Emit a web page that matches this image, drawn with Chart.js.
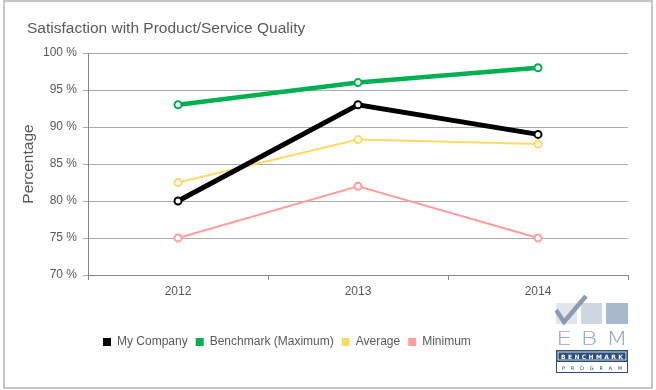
<!DOCTYPE html>
<html>
<head>
<meta charset="utf-8">
<script src="https://cdn.jsdelivr.net/npm/chart.js@4/dist/chart.umd.min.js"></script>
<style>
  body { margin: 0; background: #fff; }
  #wrap { position: relative; width: 656px; height: 390px; }
  #frame { position: absolute; left: 3px; top: 0; width: 646px; height: 385px; border: 2px solid #c6c6c6; }
  #myChart { position: absolute; left: 0; top: 0; }
  #logo { position: absolute; left: 555px; top: 295px; }
</style>
</head>
<body>
<div id="wrap">
  <div id="frame"></div>
  <canvas id="myChart" width="656" height="390"></canvas>
  <svg id="logo" width="75" height="79" viewBox="0 0 75 79">
    <rect x="1" y="8" width="21" height="21" fill="#e2e6ec"/>
    <rect x="26" y="8" width="21" height="21" fill="#cdd6e1"/>
    <rect x="51" y="8" width="22" height="21" fill="#a9b9cd"/>
    <polyline points="1,15 9,27 31,1" fill="none" stroke="#8b9cb2" stroke-width="4.5"/>
    <text x="1" y="50" font-family="DejaVu Sans, Arial" font-size="20" font-weight="200" fill="#9aa8ba" textLength="72" lengthAdjust="spacingAndGlyphs">E B M</text>
    <rect x="1.5" y="55.5" width="71" height="11" fill="#2d4f7d" stroke="#2d4f7d"/>
    <rect x="3" y="57" width="68" height="8" fill="none" stroke="#ffffff" stroke-width="0.8"/>
    <text x="6" y="63.5" font-family="DejaVu Sans, Arial" font-size="6" font-weight="bold" fill="#ffffff" textLength="62" lengthAdjust="spacing">BENCHMARK</text>
    <rect x="1.5" y="66.5" width="71" height="11" fill="#ffffff" stroke="#2d4f7d"/>
    <text x="7" y="74.5" font-family="DejaVu Sans, Arial" font-size="5" fill="#2d4f7d" textLength="60" lengthAdjust="spacing">PROGRAM</text>
  </svg>
</div>
<script>
const years = ['2012', '2013', '2014'];
const myCompany = [80, 93, 89];
const benchmark = [93, 96, 98];
const average = [82.5, 88.3, 87.7];
const minimum = [75, 82, 75];

const seriesNames = ['My Company', 'Benchmark (Maximum)', 'Average', 'Minimum'];
const seriesColors = ['#000000', '#00b050', '#ffd966', '#ff9e9e'];
const seriesWidths = [5, 4.5, 2, 2];

const txt = '#595959';
const font = 'Liberation Sans, Arial, sans-serif';

// move title and legend to where the original has them
const nudge = {
  id: 'nudge',
  afterLayout(chart) {
    chart.titleBlock.left = 27;
    chart.legend.left = 95;
  }
};

const datasets = [myCompany, benchmark, average, minimum].map((vals, i) => ({
  label: seriesNames[i],
  data: vals,
  borderColor: seriesColors[i],
  backgroundColor: seriesColors[i],
  borderWidth: seriesWidths[i],
  pointRadius: 3.5,
  pointHoverRadius: 3.5,
  pointBorderWidth: 2,
  pointBackgroundColor: '#ffffff',
  pointBorderColor: seriesColors[i],
  tension: 0
}));

const ctx = document.getElementById('myChart');
new Chart(ctx, {
  type: 'line',
  data: { labels: years, datasets: datasets },
  plugins: [nudge],
  options: {
    responsive: false,
    animation: false,
    layout: { padding: { left: 0, right: 28, top: 0, bottom: 32 } },
    plugins: {
      title: {
        display: true,
        text: 'Satisfaction with Product/Service Quality',
        align: 'start',
        color: txt,
        font: { family: font, size: 15.5, weight: 'normal' },
        padding: { top: 19, bottom: 15.4 }
      },
      legend: {
        position: 'bottom',
        align: 'start',
        labels: {
          color: txt,
          font: { family: font, size: 12 },
          boxWidth: 8,
          boxHeight: 8,
          padding: 8,
          generateLabels: chart => chart.data.datasets.map((d, i) => ({
            text: d.label,
            fillStyle: d.borderColor,
            strokeStyle: d.borderColor,
            lineWidth: 0,
            fontColor: txt,
            datasetIndex: i
          }))
        }
      },
      tooltip: { enabled: false }
    },
    scales: {
      x: {
        offset: true,
        afterFit: s => { s.height = 53; },
        grid: { drawOnChartArea: false, drawTicks: true, tickLength: 5, color: '#868686', offset: true },
        border: { color: '#868686' },
        ticks: { color: txt, font: { family: font, size: 12 }, padding: 4 }
      },
      y: {
        min: 70,
        max: 100,
        afterFit: s => { s.width = 88; },
        grid: { color: '#ababab', tickLength: 5 },
        border: { color: '#868686' },
        ticks: {
          stepSize: 5,
          color: txt,
          font: { family: font, size: 12 },
          padding: 6,
          callback: v => v + ' %'
        },
        title: {
          display: true,
          text: 'Percentage',
          color: txt,
          font: { family: font, size: 15.5 },
          padding: { top: 19.5, bottom: 0 }
        }
      }
    }
  }
});
</script>
</body>
</html>
